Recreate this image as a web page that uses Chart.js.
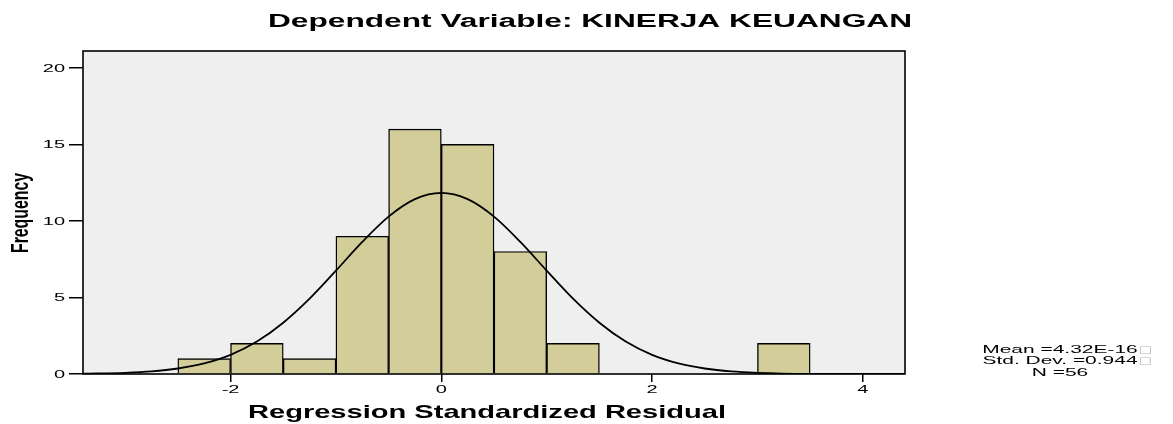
<!DOCTYPE html>
<html>
<head>
<meta charset="utf-8">
<script src="https://cdn.jsdelivr.net/npm/chart.js@4/dist/chart.umd.min.js"></script>
<style>
  html, body { margin: 0; padding: 0; background: #ffffff; }
  #wrap { width: 1173px; height: 424px; position: relative; }
</style>
</head>
<body>
<div id="wrap"><canvas id="c"></canvas></div>
<script>
// ---- data ----
const titleText = "Dependent Variable: KINERJA KEUANGAN";
const xTitle = "Regression Standardized Residual";
const yTitle = "Frequency";
const binLower = [-2.5, -2.0, -1.5, -1.0, -0.5, 0.0, 0.5, 1.0, 3.0];
const binWidth = 0.5;
const frequencies = [1, 2, 1, 9, 16, 15, 8, 2, 2];
const curveX = [-3.4, -3.0, -2.75, -2.5, -2.25, -2.0, -1.75, -1.5, -1.25, -1.0, -0.75, -0.5, -0.25, 0.0,
                0.25, 0.5, 0.75, 1.0, 1.25, 1.5, 1.75, 2.0, 2.25, 2.5, 2.75, 3.0, 3.5, 4.0, 4.4];
const curveY = [0.02, 0.08, 0.17, 0.36, 0.69, 1.25, 2.12, 3.35, 4.92, 6.75, 8.63, 10.28, 11.42, 11.83,
                11.42, 10.28, 8.63, 6.75, 4.92, 3.35, 2.12, 1.25, 0.69, 0.36, 0.17, 0.08, 0.01, 0.0, 0.0];
const xTicks = [-2, 0, 2, 4];
const yTicks = [0, 5, 10, 15, 20];
const statsLines = ["Mean =4.32E-16", "Std. Dev. =0.944", "N =56"];
const statsBox = [true, true, false];

const barData = binLower.map((lo, i) => ({ x: lo + binWidth / 2, y: frequencies[i] }));
const lineData = curveX.map((x, i) => ({ x: x, y: curveY[i] }));

function stretchText(ctx, text, x, y, font, sx, align, color) {
  ctx.save();
  ctx.font = font;
  ctx.fillStyle = color;
  ctx.textBaseline = 'alphabetic';
  ctx.textAlign = 'left';
  const w = ctx.measureText(text).width * sx;
  const left = align === 'center' ? x - w / 2 : (align === 'right' ? x - w : x);
  ctx.translate(left, y);
  ctx.scale(sx, 1);
  ctx.fillText(text, 0, 0);
  ctx.restore();
  return w;
}
function widthOf(ctx, text, font) {
  ctx.save(); ctx.font = font; const w = ctx.measureText(text).width; ctx.restore(); return w;
}

const decor = {
  id: 'decor',
  beforeDraw(chart) {
    const { ctx, chartArea: a } = chart;
    ctx.save();
    ctx.fillStyle = '#ffffff';
    ctx.fillRect(0, 0, chart.width, chart.height);
    ctx.fillStyle = '#efefef';
    ctx.fillRect(a.left, a.top, a.right - a.left, a.bottom - a.top);
    ctx.restore();
  },
  afterDraw(chart) {
    const { ctx, chartArea: a, scales } = chart;
    // frame
    ctx.save();
    ctx.strokeStyle = '#000';
    ctx.lineWidth = 1.6;
    ctx.strokeRect(a.left, a.top, a.right - a.left, a.bottom - a.top);
    ctx.restore();

    const tickFont = '10px "Liberation Sans", Arial, sans-serif';
    // y tick labels
    scales.y.ticks.forEach(t => {
      const py = scales.y.getPixelForValue(t.value);
      stretchText(ctx, String(t.value), 65, py + 3.7, tickFont, 2.0, 'right', '#000');
    });
    // x tick labels
    scales.x.ticks.forEach(t => {
      const px = scales.x.getPixelForValue(t.value);
      stretchText(ctx, String(t.value), px, 392.5, tickFont, 2.0, 'center', '#000');
    });

    // title
    const tFont = 'bold 17.5px "Liberation Sans", Arial, sans-serif';
    stretchText(ctx, titleText, 590, 27, tFont, 644 / widthOf(ctx, titleText, tFont), 'center', '#000');
    // x title
    const xFont = 'bold 18.5px "Liberation Sans", Arial, sans-serif';
    stretchText(ctx, xTitle, 487, 418, xFont, 478 / widthOf(ctx, xTitle, xFont), 'center', '#000');
    // y title (rotated)
    const yFont = 'bold 20px "Liberation Sans Narrow", "Liberation Sans", Arial, sans-serif';
    ctx.save();
    ctx.font = yFont;
    const yw = ctx.measureText(yTitle).width;
    const along = 80 / yw;
    ctx.translate(28, 213);
    ctx.rotate(-Math.PI / 2);
    ctx.scale(along, 1.2);
    ctx.fillStyle = '#000';
    ctx.textAlign = 'center';
    ctx.textBaseline = 'alphabetic';
    ctx.fillText(yTitle, 0, 0);
    ctx.restore();

    // statistics text
    const sFont = '10.7px "Liberation Sans", Arial, sans-serif';
    const baselines = [352.5, 364.3, 376];
    statsLines.forEach((s, i) => {
      const w = widthOf(ctx, s, sFont) * 1.96;
      const left = 1060 - w / 2;
      stretchText(ctx, s, left, baselines[i], sFont, 1.96, 'left', '#000');
      if (statsBox[i]) {
        stretchText(ctx, '\u25A1', left + w + 1, baselines[i], '10px "DejaVu Sans", sans-serif', 1.4, 'left', '#b5b5b5');
      }
    });
  }
};

new Chart(document.getElementById('c'), {
  type: 'bar',
  data: {
    datasets: [
      {
        type: 'line',
        data: lineData,
        borderColor: '#000',
        borderWidth: 1.8,
        pointRadius: 0,
        fill: false,
        cubicInterpolationMode: 'monotone',
        order: 0
      },
      {
        type: 'bar',
        data: barData,
        backgroundColor: 'rgb(211,206,153)',
        borderColor: '#000',
        borderWidth: 1.4,
        barPercentage: 1,
        categoryPercentage: 1,
        order: 1
      }
    ]
  },
  options: {
    responsive: true,
    maintainAspectRatio: false,
    animation: false,
    layout: { padding: { left: 0, top: 51, right: 268, bottom: 0 } },
    plugins: { legend: { display: false }, tooltip: { enabled: false }, title: { display: false } },
    scales: {
      x: {
        type: 'linear',
        min: -3.4,
        max: 4.4,
        offset: false,
        afterBuildTicks: s => { s.ticks = xTicks.map(v => ({ value: v })); },
        afterFit: s => { s.height = 50; },
        ticks: { display: false },
        grid: { display: true, offset: false, drawOnChartArea: false, drawTicks: true, tickLength: 8, color: '#000', lineWidth: 1.5 },
        border: { display: false }
      },
      y: {
        type: 'linear',
        min: 0,
        max: 21.1,
        afterBuildTicks: s => { s.ticks = yTicks.map(v => ({ value: v })); },
        afterFit: s => { s.width = 83; },
        ticks: { display: false },
        grid: { display: true, drawOnChartArea: false, drawTicks: true, tickLength: 14, color: '#000', lineWidth: 1.5 },
        border: { display: false }
      }
    }
  },
  plugins: [decor]
});
</script>
</body>
</html>
